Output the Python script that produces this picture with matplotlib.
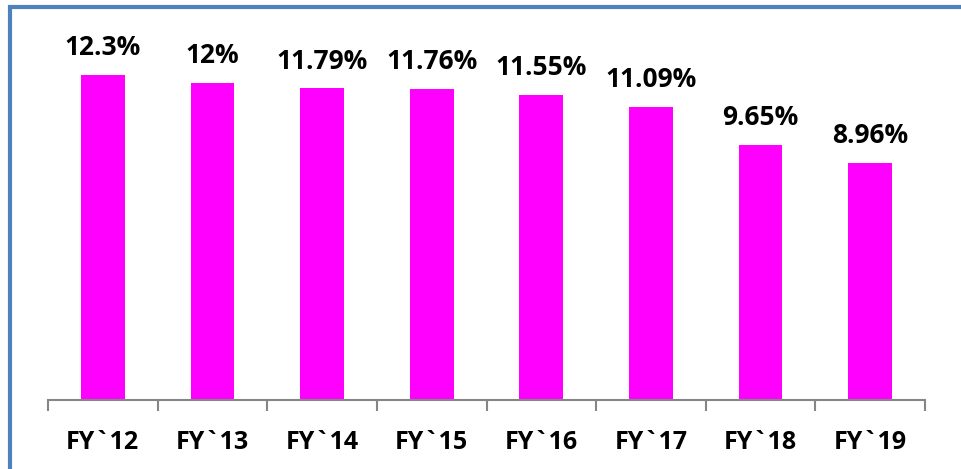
import matplotlib.pyplot as plt
from matplotlib.patches import Rectangle

years = ['FY`12', 'FY`13', 'FY`14', 'FY`15', 'FY`16', 'FY`17', 'FY`18', 'FY`19']
values = [12.3, 12.0, 11.79, 11.76, 11.55, 11.09, 9.65, 8.96]
labels = ['12.3%', '12%', '11.79%', '11.76%', '11.55%', '11.09%', '9.65%', '8.96%']


def main():
    plt.rcParams['font.family'] = ['Open Sans', 'DejaVu Sans']
    fig = plt.figure(figsize=(9.61, 4.69), dpi=100)
    ax = fig.add_axes([48 / 961, 69 / 469, 877 / 961, 370 / 469])

    x = list(range(len(years)))
    ax.bar(x, values, width=0.4, color='#FF00FF')

    for xi, v, lab in zip(x, values, labels):
        ax.annotate(lab, (xi, v), xytext=(0, 10), textcoords='offset points',
                    ha='center', va='bottom', fontsize=19, fontweight='bold')

    ax.set_xlim(-0.5, len(years) - 0.5)
    ax.set_ylim(0, 14)
    ax.set_xticks(x)
    ax.set_xticklabels(years, fontsize=18, fontweight='bold')
    ax.set_xticks([i - 0.5 for i in range(len(years) + 1)], minor=True)
    ax.tick_params(axis='x', which='major', length=0, pad=21.5)
    ax.tick_params(axis='x', which='minor', length=8, width=1.5, color='#868686')
    ax.set_yticks([])
    for s in ['top', 'right', 'left']:
        ax.spines[s].set_visible(False)
    ax.spines['bottom'].set_color('#868686')
    ax.spines['bottom'].set_linewidth(1.5)

    # blue frame, right and bottom edges run off the picture
    fig.patches.append(Rectangle((10 / 961, -0.1), 1.2, (469 - 7) / 469 + 0.1,
                                 transform=fig.transFigure, fill=False,
                                 edgecolor='#4F81BD', linewidth=3))

    fig.savefig('out.png', dpi=100)


if __name__ == '__main__':
    main()
